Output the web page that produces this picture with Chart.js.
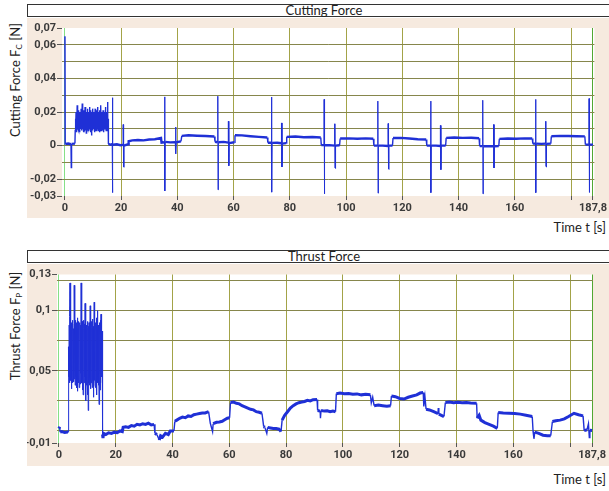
<!DOCTYPE html>
<html>
<head>
<meta charset="utf-8">
<script src="https://cdn.jsdelivr.net/npm/chart.js@4.4.1/dist/chart.umd.min.js"></script>
<style>
  body { margin: 0; width: 609px; height: 491px; position: relative; overflow: hidden; background: #fff; font-family: Lato, sans-serif; }
  .panel { position: absolute; left: 27px; width: 582px; background: #f6eadf; }
  .head { position: absolute; left: 27px; width: 592px; height: 11px; background: #fff; border: 1.5px solid #333; font-size: 13px; line-height: 11px; text-align: center; color: #222; }
  .ytitle { position: absolute; width: 170px; height: 16px; font-size: 13px; line-height: 16px; text-align: center; color: #222; transform: rotate(-90deg); white-space: nowrap; }
  .ytitle sub { font-size: 8px; vertical-align: -2px; }
  .xtitle { position: absolute; right: 3px; font-size: 13px; line-height: 16px; color: #222; }
  canvas { position: absolute; }
</style>
</head>
<body>
<div class="head" style="top:4px">Cutting Force</div>
<div class="panel" style="top:18px;height:200px"></div>
<div class="ytitle" style="left:-70px;top:72px">Cutting Force F<sub>C</sub> [N]</div>
<div class="xtitle" style="top:219px">Time t [s]</div>
<canvas id="cutChart" width="582" height="200" style="left:27px;top:18px"></canvas>

<div class="head" style="top:250px">Thrust Force</div>
<div class="panel" style="top:264px;height:202px"></div>
<div class="ytitle" style="left:-70px;top:318px">Thrust Force F<sub>P</sub> [N]</div>
<div class="xtitle" style="top:471px">Time t [s]</div>
<canvas id="thrustChart" width="582" height="202" style="left:27px;top:264px"></canvas>

<script>
// tick positions and labels (comma decimals as in the original)
const timeTicks = [0, 20, 40, 60, 80, 100, 120, 140, 160, 180, 187.8];
const timeLabels = ["0", "20", "40", "60", "80", "100", "120", "140", "160", "", "187,8"];

const cutTicks = [-0.03, -0.02, -0.01, 0, 0.01, 0.02, 0.03, 0.04, 0.05, 0.06, 0.07];
const cutLabels = ["-0,03", "-0,02", "", "0", "", "0,02", "", "0,04", "", "0,06", "0,07"];

const thrustTicks = [-0.01, 0, 0.025, 0.05, 0.075, 0.1, 0.125, 0.13];
const thrustLabels = ["-0,01", "", "", "0,05", "", "0,1", "", "0,13"];

// [time s, force N]
const cuttingForce = [
  [0, 0.0005], [0.05, 0.065], [0.2, 0.001], [1.2, 0.0012], [2.2, 0.0008], [2.3, -0.013], [2.4, 0.001], [3.6, 0.0012],
  [3.7, 0.009], [3.8, 0.016], [3.9, 0.010], [4.0, 0.020], [4.1, 0.011], [4.2, 0.018], [4.3, 0.008], [4.4, 0.024],
  [4.5, 0.012], [4.6, 0.019], [4.7, 0.010], [4.8, 0.017], [4.9, 0.009], [5.0, 0.021], [5.1, 0.011], [5.2, 0.018],
  [5.3, 0.008], [5.4, 0.020], [5.5, 0.012], [5.6, 0.019], [5.7, 0.010], [5.8, 0.022], [5.9, 0.009], [6.0, 0.018],
  [6.1, 0.011], [6.2, 0.025], [6.3, 0.010], [6.4, 0.019], [6.5, 0.012], [6.6, 0.017], [6.7, 0.008], [6.8, 0.021],
  [6.9, 0.011], [7.0, 0.019], [7.1, 0.010], [7.2, 0.023], [7.3, 0.009], [7.4, 0.018], [7.5, 0.012], [7.6, 0.020],
  [7.7, 0.007], [7.8, 0.019], [7.9, 0.011], [8.0, 0.022], [8.1, 0.010], [8.2, 0.017], [8.3, 0.009], [8.4, 0.020],
  [8.5, 0.012], [8.6, 0.018], [8.7, 0.010], [8.8, 0.023], [8.9, 0.011], [9.0, 0.019], [9.1, 0.008], [9.2, 0.021],
  [9.3, 0.010], [9.4, 0.018], [9.5, 0.006], [9.6, 0.020], [9.7, 0.011], [9.8, 0.019], [9.9, 0.009], [10.0, 0.022],
  [10.1, 0.012], [10.2, 0.018], [10.3, 0.010], [10.4, 0.020], [10.5, 0.008], [10.6, 0.019], [10.7, 0.011], [10.8, 0.022],
  [10.9, 0.010], [11.0, 0.018], [11.1, 0.009], [11.2, 0.021], [11.3, 0.012], [11.4, 0.019], [11.5, 0.010], [11.6, 0.023],
  [11.7, 0.011], [11.8, 0.018], [11.9, 0.009], [12.0, 0.020], [12.1, 0.010], [12.2, 0.019], [12.3, 0.008], [12.4, 0.021],
  [12.5, 0.011], [12.6, 0.018], [12.7, 0.010], [12.8, 0.024], [12.9, 0.009], [13.0, 0.019], [13.1, 0.011], [13.2, 0.020],
  [13.3, 0.012], [13.4, 0.018], [13.5, 0.009], [13.6, 0.021], [13.7, 0.010], [13.8, 0.019], [13.9, 0.008], [14.0, 0.020],
  [14.1, 0.011], [14.2, 0.018], [14.3, 0.010], [14.4, 0.023], [14.5, 0.011], [14.6, 0.019], [14.7, 0.009], [14.8, 0.020],
  [14.9, 0.010], [15.0, 0.018], [15.1, 0.009], [15.2, 0.026], [15.3, 0.011], [15.4, 0.016],
  [15.5, 0.001], [16.2, 0.0005], [16.85, 0.0008], [16.9, 0.0285], [17.0, -0.028], [17.1, 0.0005], [18.5, 0.0008],
  [19.8, 0.0002], [20.75, 0.0004], [20.8, 0.0125], [20.9, -0.0126], [21.0, 0.0], [22.5, 0.0008],
  [22.7, 0.0026], [24, 0.0031], [26, 0.0033], [28, 0.0031], [30, 0.0036], [32, 0.0038], [34.2, 0.0045],
  [34.4, 0.0018], [35.45, 0.002], [35.5, 0.029], [35.6, -0.027], [35.7, 0.0022], [37.5, 0.0019],
  [39.35, 0.002], [39.4, 0.011], [39.5, -0.005], [39.6, 0.002], [41.3, 0.0025],
  [41.6, 0.0058], [44, 0.0062], [47, 0.0059], [50, 0.0057], [53.2, 0.0054],
  [53.4, 0.0023], [54.35, 0.002], [54.4, 0.0294], [54.5, -0.0263], [54.6, 0.002], [56.5, 0.0022],
  [58.15, 0.0018], [58.2, 0.0145], [58.3, -0.012], [58.4, 0.0015], [60.3, 0.002],
  [60.5, 0.0062], [63, 0.0061], [66, 0.0056], [69, 0.0052], [72, 0.0048],
  [72.2, 0.0017], [73.45, 0.0017], [73.5, 0.0289], [73.6, -0.0277], [73.7, 0.0016], [75.5, 0.0017],
  [77.05, 0.0014], [77.1, 0.0135], [77.2, -0.0127], [77.3, 0.0012], [78.7, 0.0015],
  [78.9, 0.0052], [82, 0.0054], [85, 0.005], [88, 0.0051], [91, 0.0048],
  [91.2, 0.0003], [92.15, 0.0003], [92.2, 0.0275], [92.3, -0.0287], [92.4, 0.0002], [94, 0.0003],
  [95.95, 0.0], [96.0, 0.013], [96.1, -0.0133], [96.2, 0.0], [97.7, 0.0002],
  [97.9, 0.0042], [101, 0.0043], [104, 0.0041], [107, 0.0043], [109.7, 0.0041],
  [109.9, 0.0], [111.25, 0.0], [111.3, 0.0265], [111.4, -0.0283], [111.5, 0.0], [113, 0.0],
  [114.95, -0.0002], [115.0, 0.0131], [115.1, -0.0139], [115.2, 0.0], [116.5, 0.0],
  [116.7, 0.0045], [119.5, 0.0046], [122.5, 0.0042], [125.5, 0.0038], [128.5, 0.0036],
  [128.7, 0.0], [130.05, 0.0], [130.1, 0.0265], [130.2, -0.028], [130.3, 0.0], [132, 0.0],
  [133.55, -0.0002], [133.6, 0.012], [133.7, -0.0143], [133.8, 0.0], [135.4, 0.0],
  [135.6, 0.0046], [138.5, 0.0048], [141.5, 0.0046], [144.5, 0.0047], [147.3, 0.0044],
  [147.5, -0.0003], [148.55, -0.0003], [148.6, 0.027], [148.7, -0.0287], [148.8, -0.0004], [150.5, -0.0004],
  [152.45, -0.0004], [152.5, 0.0125], [152.6, -0.0133], [152.7, -0.0004], [154.3, -0.0003],
  [154.5, 0.004], [157.5, 0.0042], [160.5, 0.0041], [163.5, 0.0043], [166.2, 0.0042],
  [166.4, 0.0012], [167.35, 0.0012], [167.4, 0.0275], [167.5, -0.028], [167.6, 0.0012], [169.5, 0.001],
  [170.95, 0.0012], [171.0, 0.0145], [171.1, -0.0124], [171.2, 0.001], [172.8, 0.0012],
  [173.0, 0.0056], [176, 0.0058], [179, 0.0057], [182, 0.0056], [184.9, 0.0055],
  [185.1, 0.0006], [186.35, 0.0006], [186.4, 0.028], [186.5, -0.0279], [186.6, 0.0006], [187.8, 0.0006]
];

const thrustForce = [
  [0, 0.002], [0.2, 0.0035], [0.4, -0.001], [1, -0.0005], [2, -0.0012], [3, -0.0008], [3.3, -0.001],
  [3.4, 0.070], [3.5, 0.045], [3.6, 0.088], [3.7, 0.040], [3.8, 0.095], [3.9, 0.123], [4.0, 0.050], [4.1, 0.084],
  [4.2, 0.042], [4.3, 0.088], [4.4, 0.035], [4.5, 0.090], [4.6, 0.044], [4.7, 0.086], [4.8, 0.040], [4.9, 0.092],
  [5.0, 0.046], [5.1, 0.085], [5.2, 0.041], [5.3, 0.089], [5.4, 0.121], [5.5, 0.043], [5.6, 0.087], [5.7, 0.038],
  [5.8, 0.092], [5.9, 0.045], [6.0, 0.086], [6.1, 0.042], [6.2, 0.090], [6.3, 0.036], [6.4, 0.085], [6.5, 0.033],
  [6.6, 0.094], [6.7, 0.046], [6.8, 0.087], [6.9, 0.040], [7.0, 0.091], [7.1, 0.036], [7.2, 0.086], [7.3, 0.044],
  [7.4, 0.090], [7.5, 0.039], [7.6, 0.088], [7.7, 0.048], [7.8, 0.123], [7.9, 0.041], [8.0, 0.087], [8.1, 0.040],
  [8.2, 0.091], [8.3, 0.034], [8.4, 0.086], [8.5, 0.030], [8.6, 0.092], [8.7, 0.044], [8.8, 0.085], [8.9, 0.040],
  [9.0, 0.089], [9.1, 0.045], [9.2, 0.106], [9.3, 0.035], [9.4, 0.084], [9.5, 0.025], [9.6, 0.088], [9.7, 0.038],
  [9.8, 0.085], [9.9, 0.042], [10.0, 0.091], [10.1, 0.030], [10.2, 0.086], [10.3, 0.017], [10.4, 0.087], [10.5, 0.040],
  [10.6, 0.090], [10.7, 0.038], [10.8, 0.086], [10.9, 0.044], [11.0, 0.104], [11.1, 0.035], [11.2, 0.088], [11.3, 0.040],
  [11.4, 0.091], [11.5, 0.046], [11.6, 0.086], [11.7, 0.036], [11.8, 0.093], [11.9, 0.042], [12.0, 0.085], [12.1, 0.028],
  [12.2, 0.087], [12.3, 0.040], [12.4, 0.107], [12.5, 0.042], [12.6, 0.089], [12.7, 0.038], [12.8, 0.086], [12.9, 0.036],
  [13.0, 0.090], [13.1, 0.042], [13.2, 0.094], [13.3, 0.030], [13.4, 0.086], [13.5, 0.040], [13.6, 0.100], [13.7, 0.045],
  [13.8, 0.088], [13.9, 0.038], [14.0, 0.085], [14.1, 0.022], [14.2, 0.090], [14.3, 0.040], [14.4, 0.087], [14.5, 0.034],
  [14.6, 0.092], [14.7, 0.040], [14.8, 0.097], [14.9, 0.050], [15.0, 0.085], [15.1, 0.045], [15.2, 0.083],
  [15.35, -0.003], [15.5, -0.006], [15.7, -0.002], [16.5, -0.003], [17.5, -0.0015], [18.5, -0.002], [19.5, -0.001],
  [20.5, -0.0015], [21.5, 0.0], [22.3, -0.0005], [22.6, 0.003], [23.5, 0.0035], [24.5, 0.003], [25.5, 0.0045],
  [26.5, 0.004], [27.5, 0.0055], [28.5, 0.005], [29.5, 0.006], [30.5, 0.0055], [31.5, 0.0065], [32.5, 0.005],
  [33.5, 0.0055], [33.8, -0.002], [34.5, -0.003], [35.3, -0.0075], [35.8, -0.004], [36.5, -0.005], [37.5, -0.002],
  [38.5, -0.003], [39.2, 0.0], [40.5, 0.0], [40.8, 0.008], [41.5, 0.009], [42.5, 0.0105], [43.5, 0.0115],
  [44.5, 0.011], [45.5, 0.0125], [46.5, 0.012], [47.5, 0.0135], [48.5, 0.014], [49.5, 0.0145], [50.5, 0.015],
  [51.5, 0.015], [52.7, 0.016], [53.3, 0.0064], [54.1, -0.0006], [54.3, 0.006], [55.5, 0.0072], [56.5, 0.0075],
  [57.5, 0.008], [58.5, 0.0095], [59.3, 0.0106], [60.1, 0.011], [60.4, 0.0236], [61.5, 0.024], [62.5, 0.023],
  [63.5, 0.0225], [64.5, 0.021], [65.5, 0.020], [66.5, 0.019], [67.5, 0.018], [68.5, 0.0175], [69.5, 0.016],
  [70.5, 0.0155], [71.5, 0.0147], [72.1, 0.0036], [72.5, 0.003], [73.2, -0.002], [73.5, 0.003], [74.5, 0.0025],
  [75.5, 0.002], [76.5, 0.002], [77.5, 0.0015], [78.2, -0.0005], [78.6, 0.009], [79.5, 0.013], [80.5, 0.016],
  [81.5, 0.019], [82.5, 0.021], [83.5, 0.0225], [84.5, 0.0235], [85.5, 0.024], [86.5, 0.0245], [87.5, 0.0255],
  [88.5, 0.025], [89.5, 0.026], [90.9, 0.0262], [91.1, 0.017], [92.0, 0.0165], [92.1, 0.0106], [92.3, 0.017],
  [93.5, 0.0165], [94.5, 0.0168], [95.5, 0.016], [96.5, 0.0165], [97.4, 0.016], [97.7, 0.031], [99, 0.0315],
  [100.5, 0.031], [102, 0.0312], [103.5, 0.0305], [105, 0.0308], [106.5, 0.030], [108, 0.0305], [109.7, 0.030],
  [110, 0.0233], [110.5, 0.028], [111, 0.021], [112.5, 0.0215], [114, 0.021], [115.5, 0.0205], [116.8, 0.021],
  [117.1, 0.029], [118.5, 0.0285], [120, 0.027], [121.5, 0.0265], [123, 0.028], [124.5, 0.029], [126, 0.030],
  [127.2, 0.0315], [128.3, 0.032], [128.5, 0.0203], [128.9, 0.0286], [129.3, 0.018], [130.5, 0.0175], [132, 0.016],
  [133.5, 0.0145], [133.6, 0.019], [133.8, 0.014], [135.6, 0.012], [136.1, 0.0236], [137.5, 0.024], [139, 0.0235],
  [140.5, 0.0238], [142, 0.0234], [143.5, 0.0236], [145, 0.0232], [147.1, 0.023], [147.3, 0.0106], [148, 0.013],
  [148.6, 0.009], [150, 0.007], [151.5, 0.0055], [153, 0.004], [154.4, 0.0022], [154.7, 0.0153], [156.5, 0.015],
  [158.5, 0.0148], [160.5, 0.0145], [162.5, 0.014], [164.5, 0.013], [166.7, 0.012], [167, -0.0006], [167.3, -0.0065],
  [167.6, -0.001], [169, -0.002], [170.5, -0.0035], [172, -0.004], [173.2, -0.004], [173.8, 0.0078], [175, 0.0085],
  [176.5, 0.009], [178, 0.010], [179.5, 0.012], [181.4, 0.0147], [183, 0.0135], [184.6, 0.0125], [185, 0.0003],
  [186, 0.001], [186.5, 0.006], [186.8, -0.0055], [187, 0.0005], [187.8, 0.0003]
];

const tickFont = { family: "Roboto", size: 11, weight: "bold" };

// white plot area on the beige panel
const plotBackground = {
  id: "plotBackground",
  beforeDraw(chart) {
    const a = chart.chartArea;
    chart.ctx.save();
    chart.ctx.fillStyle = "#ffffff";
    chart.ctx.fillRect(a.left, a.top, a.right - a.left, a.bottom - a.top);
    chart.ctx.restore();
  }
};

// the noisy plateaus read as a thick trace, the spikes as thin strokes
function segWidth(flat) {
  return ctx => {
    const dy = Math.abs(ctx.p1.y - ctx.p0.y);
    if (dy > 40) return 1;
    if (dy > 5) return 1.4;
    return flat;
  };
}

function makeChart(id, series, yTicks, yLabels, opts) {
  const canvas = document.getElementById(id);
  const last = yTicks.length - 1;
  return new Chart(canvas, {
    type: "line",
    data: {
      datasets: [{
        data: series.map(p => ({ x: p[0], y: p[1] })),
        borderColor: "#1f30d6",
        borderWidth: 1.4,
        segment: { borderWidth: segWidth(opts.flatWidth) },
        pointRadius: 0,
        tension: 0
      }]
    },
    options: {
      responsive: false,
      animation: false,
      devicePixelRatio: 1,
      layout: { padding: { left: 0, top: opts.top, right: opts.right, bottom: 0 } },
      plugins: { legend: { display: false }, tooltip: { enabled: false } },
      scales: {
        x: {
          type: "linear",
          min: opts.xMin,
          max: opts.xMax,
          afterBuildTicks: s => { s.ticks = timeTicks.map(v => ({ value: v })); },
          afterFit: s => { s.height = opts.xHeight; },
          ticks: {
            autoSkip: false, maxRotation: 0, padding: 2,
            font: tickFont, color: "#3a3a3a",
            callback: (v, i) => timeLabels[i]
          },
          grid: {
            color: ctx => ctx.index === 0 ? "#86e086" : (ctx.index === timeTicks.length - 1 ? "#52a832" : "#a3a348"),
            tickColor: "#555555",
            tickLength: 4
          },
          border: { display: false }
        },
        y: {
          min: yTicks[0],
          max: yTicks[last],
          afterBuildTicks: s => { s.ticks = yTicks.map(v => ({ value: v })); },
          afterFit: s => { s.width = opts.yWidth; },
          ticks: {
            autoSkip: false, padding: 1,
            font: tickFont, color: "#3a3a3a",
            callback: (v, i) => yLabels[i]
          },
          grid: {
            color: ctx => (ctx.index === 0 || ctx.index === last) ? "rgba(0,0,0,0)" : "#86864c",
            tickColor: ctx => yLabels[ctx.index] ? "#555555" : "rgba(0,0,0,0)",
            tickLength: 5
          },
          border: { display: false }
        }
      }
    },
    plugins: [plotBackground]
  });
}

makeChart("cutChart", cuttingForce, cutTicks, cutLabels,
  { xMin: -1, xMax: 188.3, top: 10, right: 14, xHeight: 22, yWidth: 35, flatWidth: 2.4 });
makeChart("thrustChart", thrustForce, thrustTicks, thrustLabels,
  { xMin: -0.7, xMax: 188.1, top: 10.5, right: 16, xHeight: 23, yWidth: 30, flatWidth: 3 });
</script>
</body>
</html>
